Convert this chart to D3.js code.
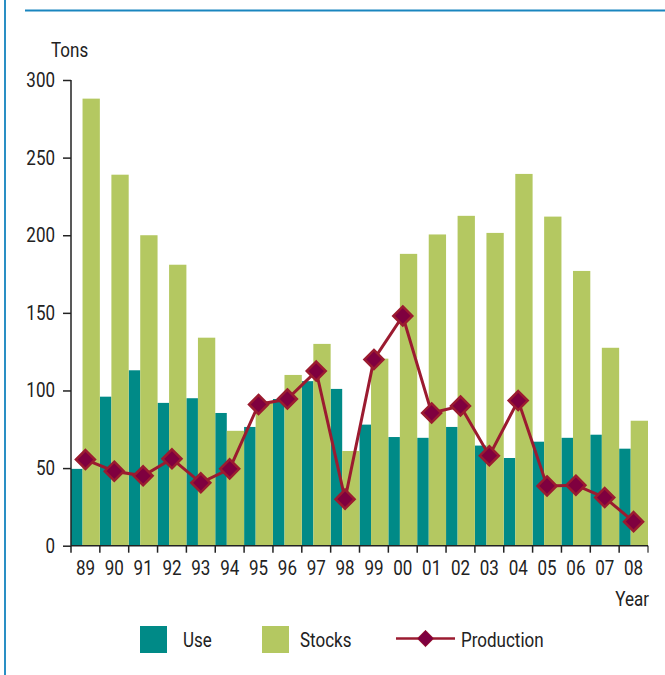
<!DOCTYPE html>
<html>
<head>
<meta charset="utf-8">
<script src="https://cdn.jsdelivr.net/npm/d3@7"></script>
<style>
  body { margin: 0; background: #fff; }
  text { font-family: Roboto, "Liberation Sans", sans-serif; font-size: 20px; fill: #222; }
</style>
</head>
<body>
<svg id="chart" width="665" height="675"></svg>
<script>
// values
var years = ["89","90","91","92","93","94","95","96","97","98","99","00","01","02","03","04","05","06","07","08"];
var use = [49.5, 96, 113, 92, 95, 85.5, 76.5, 94.5, 106, 101, 78, 70, 69.5, 76.5, 64.5, 56.5, 67, 69.5, 71.5, 62.5];
var stocks = [288, 239, 200, 181, 134, 74, 93, 110, 130, 61, 120.5, 188, 200.5, 212.5, 201.5, 239.5, 212, 177, 127.5, 80.5];
var production = [55.5, 48, 45, 56, 40.5, 49.5, 91, 94.5, 112.5, 30, 120, 148, 85.5, 90, 58, 93.5, 38.5, 39, 31, 15.5];
var yTicks = [0, 50, 100, 150, 200, 250, 300];

var useColor = "#008a87",
    stocksColor = "#b4c861",
    lineColor = "#9b1b30",
    markerColor = "#7f003f";

var sx = 0.85; // squeeze text to look like a condensed face

var svg = d3.select("#chart");

function label(parent, px, py, str, anchor) {
    parent.append("g")
        .attr("transform", "translate(" + px + "," + py + ")")
        .append("text")
        .attr("transform", "scale(" + sx + ",1)")
        .attr("text-anchor", anchor || "start")
        .text(str);
}

// frame lines
svg.append("line").attr("x1", 5).attr("x2", 5).attr("y1", 0).attr("y2", 675)
    .style("stroke", "#2a8fc4").style("stroke-width", 2);
svg.append("line").attr("x1", 25).attr("x2", 665).attr("y1", 10.5).attr("y2", 10.5)
    .style("stroke", "#1a86bf").style("stroke-width", 2);

var x = d3.scaleBand()
    .domain(years)
    .range([71, 648])
    .padding(0);

var y = d3.scaleLinear()
    .domain([0, 300])
    .range([545.7, 80]);

var bw = x.bandwidth();

// use bars
svg.append("g").selectAll("rect")
    .data(use)
    .enter().append("rect")
    .attr("x", function(d, i) { return x(years[i]); })
    .attr("width", bw * 0.4)
    .attr("y", function(d) { return y(d); })
    .attr("height", function(d) { return y(0) - y(d); })
    .style("fill", useColor);

// stocks bars
svg.append("g").selectAll("rect")
    .data(stocks)
    .enter().append("rect")
    .attr("x", function(d, i) { return x(years[i]) + bw * 0.4; })
    .attr("width", bw * 0.6)
    .attr("y", function(d) { return y(d); })
    .attr("height", function(d) { return y(0) - y(d); })
    .style("fill", stocksColor);

// axes
var yAxis = d3.axisLeft(y).tickValues(yTicks).tickSize(8).tickPadding(8);
var gy = svg.append("g").attr("transform", "translate(71,0)").call(yAxis);
gy.select(".domain").attr("d", "M0," + y(300) + "V" + y(0));
gy.selectAll("text")
    .attr("x", -16 / sx)
    .attr("transform", "scale(" + sx + ",1)")
    .style("font-size", "20px").style("font-family", null);

var xAxis = d3.axisBottom(x).tickSize(7).tickPadding(8);
var gx = svg.append("g").attr("transform", "translate(0," + y(0) + ")").call(xAxis);
gx.select(".domain").attr("d", "M71,0H648");
gx.selectAll(".tick line").attr("x1", -bw / 2).attr("x2", -bw / 2);
gx.append("line").attr("x1", 648).attr("x2", 648).attr("y1", 0).attr("y2", 7).style("stroke", "currentColor");
gx.selectAll("text")
    .attr("transform", "scale(" + sx + ",1)")
    .style("font-size", "20px").style("font-family", null);
svg.selectAll("g").attr("font-family", null).attr("font-size", null);
svg.selectAll(".domain, .tick line").style("stroke", "#222").style("stroke-width", 1.5);

// production line
var line = d3.line()
    .x(function(d, i) { return x(years[i]) + bw / 2; })
    .y(function(d) { return y(d); });

svg.append("path")
    .datum(production)
    .attr("d", line)
    .style("fill", "none")
    .style("stroke", lineColor)
    .style("stroke-width", 3);

var diamond = d3.symbol().type(d3.symbolDiamond2).size(230);
svg.append("g").selectAll("path")
    .data(production)
    .enter().append("path")
    .attr("d", diamond)
    .attr("transform", function(d, i) { return "translate(" + (x(years[i]) + bw / 2) + "," + y(d) + ")"; })
    .style("fill", markerColor)
    .style("stroke", lineColor)
    .style("stroke-width", 2.5);

// axis titles
label(svg, 51, 57, "Tons");
label(svg, 649, 606, "Year", "end");

// legend
var legend = svg.append("g");
legend.append("rect").attr("x", 140).attr("y", 626).attr("width", 27).attr("height", 27).style("fill", useColor);
label(legend, 183, 647, "Use");
legend.append("rect").attr("x", 262).attr("y", 626).attr("width", 27).attr("height", 27).style("fill", stocksColor);
label(legend, 300, 647, "Stocks");
legend.append("line").attr("x1", 396).attr("x2", 455).attr("y1", 638.5).attr("y2", 638.5)
    .style("stroke", lineColor).style("stroke-width", 2.5);
legend.append("path").attr("d", d3.symbol().type(d3.symbolDiamond2).size(170)).attr("transform", "translate(425.5,638.5)")
    .style("fill", markerColor).style("stroke", lineColor).style("stroke-width", 1);
label(legend, 461, 647, "Production");
</script>
</body>
</html>
